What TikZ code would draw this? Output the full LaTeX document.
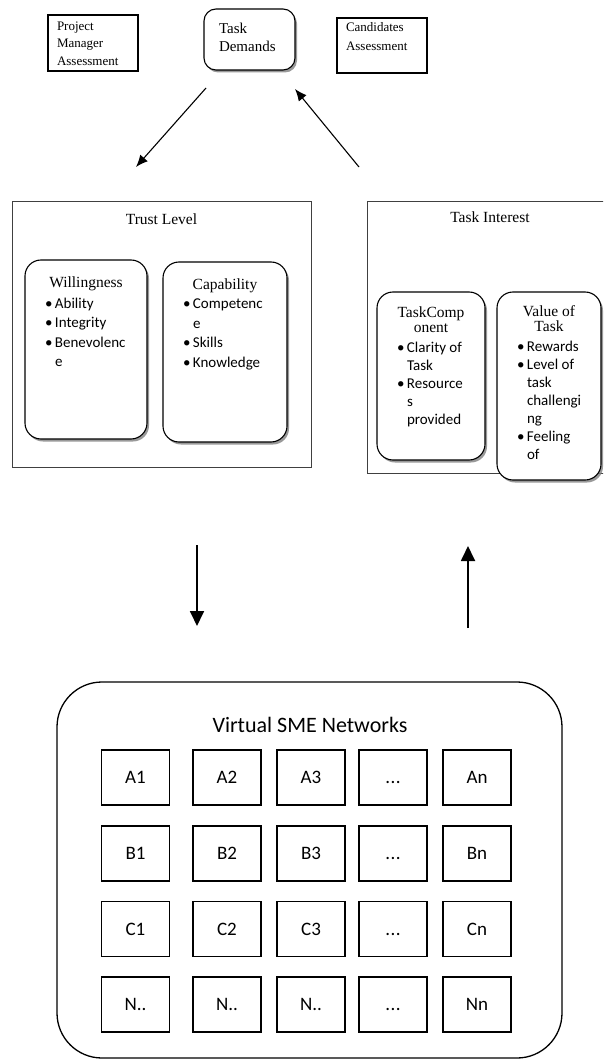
\documentclass[tikz,border=0pt]{standalone}
\usepackage{fontspec}
\setmainfont{Carlito}
\newfontfamily\serf{Liberation Serif}
\usetikzlibrary{arrows.meta,shadows}

\tikzset{
  plainbox/.style={draw, line width=1.1pt, inner sep=0pt, fill=white},
  panel/.style={draw=black!75, line width=1pt, inner sep=0pt},
  card/.style={draw, line width=1.1pt, rounded corners=16pt, fill=white, inner sep=0pt,
    drop shadow={shadow xshift=2pt, shadow yshift=-2.5pt, fill=black!50, opacity=0.8}},
  cell/.style={draw, line width=1.2pt, minimum width=68pt, minimum height=55pt,
    inner sep=0pt, text height=12.5pt, text depth=0pt, font=\fontsize{19}{22}\selectfont},
  flow/.style={line width=1.1pt, -{Latex[length=12pt,width=10pt]}},
  bigflow/.style={line width=1.8pt, -{Triangle[length=15pt,width=14pt]}},
  paneltitle/.style={anchor=north, inner sep=0pt, font=\serf\fontsize{15.5}{17}\selectfont}
}
\newcommand{\itemfont}[1]{\fontsize{15}{#1}\selectfont\raggedright\leftskip=20pt}
\newcommand{\bitem}[1]{\par\hangindent=10pt\hangafter=1\noindent\makebox[10pt][l]{\textbullet}#1}
\newcommand{\ctitle}[2]{{\centering\serf\fontsize{15.5}{15.5}\selectfont\rule{0pt}{#1}#2\par}}
\newcommand{\tdots}{.\kern0.5pt.\kern0.5pt.}

\begin{document}
\begin{tikzpicture}[x=1pt, y=-1pt]
  \useasboundingbox (0,0) rectangle (603,1059);
  \clip (0,0) rectangle (603,1059);

  % top row
  \node[plainbox, minimum width=90pt, minimum height=56pt] (pm) at (93,43)
    {\parbox[c][56pt][t]{90pt}{\serf\fontsize{13}{17.5}\selectfont\raggedright\leftskip=9pt
      \rule{0pt}{15.5pt}Project\\Manager\\Assessment}};
  \node[card, rounded corners=12pt, minimum width=91pt, minimum height=61pt] (demands) at (249.5,39.5)
    {\parbox[c][61pt][t]{91pt}{\serf\fontsize{15}{18}\selectfont\raggedright\leftskip=15pt
      \rule{0pt}{25pt}Task\\Demands}};
  \node[plainbox, minimum width=90pt, minimum height=55pt] (cand) at (382,45.5)
    {\parbox[c][55pt][t]{90pt}{\serf\fontsize{13}{19}\selectfont\raggedright\leftskip=9pt
      \rule{0pt}{13.5pt}Candidates\\Assessment}};

  \coordinate (demandsOut) at (206,88);
  \coordinate (trustIn) at (136,167);
  \coordinate (interestOut) at (359,167);
  \coordinate (demandsIn) at (295,89);
  \draw[flow] (demandsOut) -- (trustIn);
  \draw[flow] (interestOut) -- (demandsIn);

  % trust level
  \node[panel, minimum width=299pt, minimum height=265pt] (trust) at (161.5,334.5) {};
  \node[paneltitle] (trusttitle) at ([yshift=-12pt]trust.north) {Trust Level};
  \node[card, minimum width=122pt, minimum height=179pt] (will) at (86,349.5)
    {\parbox[c][179pt][t]{122pt}{\ctitle{27pt}{Willingness}\vspace{1.5pt}\itemfont{19.5pt}
      \bitem{Ability}\bitem{Integrity}\bitem{Benevolenc\newline e}}};
  \node[card, minimum width=124pt, minimum height=180pt] (capa) at (225,352)
    {\parbox[c][180pt][t]{124pt}{\ctitle{27pt}{Capability}\vspace{0pt}\itemfont{19.5pt}
      \bitem{Competenc\newline e}\bitem{Skills}\bitem{Knowledge}}};

  % task interest
  \node[panel, minimum width=246pt, minimum height=271pt] (interest) at (490,337.5) {};
  \node[paneltitle] (interesttitle) at ([yshift=-10pt]interest.north) {Task Interest};
  \node[card, minimum width=108pt, minimum height=168pt] (comp) at (431,376)
    {\parbox[c][168pt][t]{108pt}{\ctitle{25pt}{TaskComp\\onent}\vspace{2pt}\itemfont{18pt}
      \bitem{Clarity of\newline Task}\bitem{Resource\newline s\newline provided}}};
  \node[card, minimum width=104pt, minimum height=188pt] (value) at (549,386)
    {\parbox[c][188pt][t]{104pt}{\ctitle{24pt}{Value of\\Task}\vspace{2pt}\itemfont{18pt}
      \bitem{Rewards}\bitem{Level of\newline task\newline challengi\newline ng}\bitem{Feeling\newline of}}};

  \coordinate (trustOut) at (197,545);
  \coordinate (netIn) at (197,626);
  \coordinate (netOut) at (468,628);
  \coordinate (interestIn) at (468,546);
  \draw[bigflow] (trustOut) -- (netIn);
  \draw[bigflow] (netOut) -- (interestIn);

  % network
  \node[draw, line width=1.3pt, rounded corners=45pt, minimum width=505pt, minimum height=376pt,
    inner sep=0pt] (net) at (309.5,870) {};
  \node[font=\fontsize{22}{24}\selectfont, inner sep=0pt] (nettitle) at (310,725) {Virtual SME Networks};
  \foreach \r/\cy/\labs in {a/777.5/{A1,A2,A3,\tdots,An}, b/853.5/{B1,B2,B3,\tdots,Bn},
                            c/929/{C1,C2,C3,\tdots,Cn}, n/1004.5/{N..,N..,N..,\tdots,Nn}}
    \foreach \lab [count=\c] in \labs {
      \pgfmathsetmacro{\cx}{{135.5,227,311,393,477}[\c-1]}
      \node[cell] (cell-\r\c) at (\cx,\cy) {\lab};
    }
\end{tikzpicture}
\end{document}
